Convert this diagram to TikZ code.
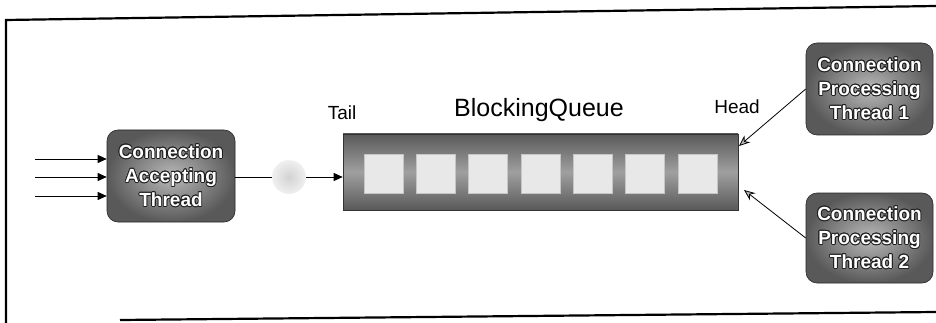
\documentclass[tikz,border=0pt]{standalone}
\usepackage{fontspec}
\setmainfont{Liberation Sans}
\usepackage{contour}
\contourlength{0.8pt}
\usetikzlibrary{arrows.meta,shadings}
\begin{document}
\begin{tikzpicture}[x=1pt,y=-1pt,
  thread/.style={rounded corners=11pt, draw=gray!30!black, line width=0.6pt,
    inner color=gray!55, outer color=gray!70!black,
    minimum width=128pt, minimum height=92pt, align=center, text=white,
    font=\bfseries\fontsize{19}{24}\selectfont, inner sep=0pt},
  queuebox/.style={draw=gray!40!black, line width=0.6pt,
    top color=gray!70!black, bottom color=gray!70!black, middle color=gray!75,
    minimum width=395pt, minimum height=76pt, inner sep=0pt},
  slot/.style={fill=gray!18, draw=gray!45, line width=0.4pt, minimum width=39pt, minimum height=39pt, inner sep=0pt},
  lbl/.style={font=\fontsize{19}{22}\selectfont, inner sep=0pt},
  conn/.style={line width=0.8pt, black},
  inarrow/.style={conn, -{Triangle[length=9pt,width=8pt]}},
  grayarrow/.style={conn, -{Stealth[length=11pt,width=9pt,fill=gray!55]}},
  frame/.style={line width=2.2pt, black}
]
\useasboundingbox (0,0) rectangle (936,323);
% frame
\coordinate (fbl) at (6,323);
\coordinate (ftl) at (6,20);
\coordinate (ftr) at (936,6);
\coordinate (fbs) at (120,320);
\coordinate (fbr) at (936,312);
\draw[frame] (fbl) -- (ftl) -- (ftr);
\draw[frame] (fbs) -- (fbr);

% accepting thread
\node[thread] (cat) at (171,176) {\contour{gray!25!black}{Connection}\\\contour{gray!25!black}{Accepting}\\\contour{gray!25!black}{Thread}};
\coordinate (i1) at (35,159);
\coordinate (i2) at (35,177);
\coordinate (i3) at (35,196);
\draw[inarrow] (i1) -- (cat.west |- i1);
\draw[inarrow] (i2) -- (cat.west |- i2);
\draw[inarrow] (i3) -- (cat.west |- i3);

% blob
\node[circle, minimum size=34pt, inner sep=0pt, inner color=gray!35, outer color=gray!12] (blob) at (289,177) {};
\draw[conn] (cat.east |- blob) -- (blob.west);

% queue
\node[queuebox] (q) at (540.5,172) {};
\foreach \i in {0,...,6} {
  \node[slot] (s\i) at (383.5+52.3*\i,173.5) {};
}
\draw[inarrow] (blob.east) -- (q.west |- blob.east);

\node[lbl] (tail) at (342,113) {Tail};
\node[font=\fontsize{25}{28}\selectfont, inner sep=0pt] (bq) at (539,110) {BlockingQueue};
\node[lbl] (head) at (737,107) {Head};

% processing threads
\node[thread, minimum width=127pt] (p1) at (869.5,89) {\contour{gray!25!black}{Connection}\\\contour{gray!25!black}{Processing}\\\contour{gray!25!black}{Thread 1}};
\node[thread, minimum width=127pt, minimum height=90pt] (p2) at (869.5,238) {\contour{gray!25!black}{Connection}\\\contour{gray!25!black}{Processing}\\\contour{gray!25!black}{Thread 2}};
\coordinate (h1) at (739,146);
\coordinate (h2) at (744,190);
\draw[grayarrow] (p1.west) -- (h1);
\draw[grayarrow] (p2.west) -- (h2);
\end{tikzpicture}
\end{document}
